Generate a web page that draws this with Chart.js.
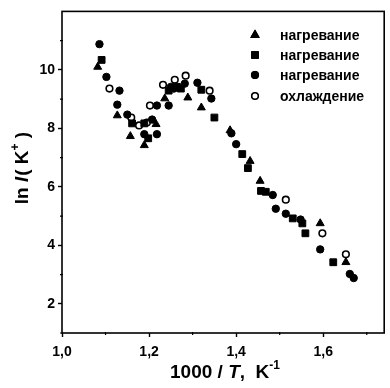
<!DOCTYPE html>
<html>
<head>
<meta charset="utf-8">
<script src="https://cdn.jsdelivr.net/npm/chart.js@4/dist/chart.umd.min.js"></script>
<style>
  html, body { margin: 0; padding: 0; background: #fff; }
  #wrap { width: 390px; height: 388px; }
</style>
</head>
<body>
<div id="wrap"><canvas id="chart" width="390" height="388"></canvas></div>
<script>
// heating run 1 (triangles)
const heat1X = [1.082, 1.127, 1.157, 1.189, 1.216, 1.236, 1.289, 1.320, 1.386, 1.432, 1.455, 1.593, 1.652];
const heat1Y = [10.10, 8.44, 7.73, 7.42, 8.14, 9.02, 9.05, 8.71, 7.93, 6.88, 6.20, 4.75, 3.42];

// heating run 2 (squares)
const heat2X = [1.091, 1.161, 1.189, 1.198, 1.245, 1.264, 1.273, 1.320, 1.350, 1.414, 1.427, 1.457, 1.468, 1.530, 1.552, 1.559, 1.623];
const heat2Y = [10.34, 8.17, 8.17, 7.66, 9.29, 9.42, 9.36, 9.32, 8.37, 7.12, 6.64, 5.86, 5.83, 4.92, 4.75, 4.41, 3.42];

// heating run 3 (filled circles)
const heat3X = [1.086, 1.102, 1.132, 1.127, 1.150, 1.207, 1.189, 1.218, 1.218, 1.245, 1.250, 1.257, 1.282, 1.311, 1.343, 1.389, 1.400, 1.484, 1.491, 1.514, 1.548, 1.593, 1.661, 1.670];
const heat3Y = [10.88, 9.76, 9.29, 8.81, 8.47, 8.30, 7.80, 7.80, 8.78, 8.78, 9.42, 9.36, 9.53, 9.56, 9.02, 7.83, 7.46, 5.72, 5.25, 5.08, 4.88, 3.86, 3.02, 2.88];

// cooling run (open circles)
const coolX = [1.109, 1.159, 1.177, 1.195, 1.202, 1.232, 1.259, 1.284, 1.339, 1.514, 1.598, 1.652];
const coolY = [9.36, 8.37, 8.10, 8.20, 8.78, 9.49, 9.66, 9.80, 9.29, 5.56, 4.41, 3.69];

const seriesLabels = ['нагревание', 'нагревание', 'нагревание', 'охлаждение'];

const xTicks = [1.0, 1.2, 1.4, 1.6];
const xMinor = [1.1, 1.3, 1.5, 1.7];
const yTicks = [2, 4, 6, 8, 10];
const yMinor = [1, 3, 5, 7, 9, 11];

const toPoints = (xs, ys) => xs.map((x, i) => ({ x: x, y: ys[i] }));

const FONT = '"Liberation Sans", Arial, sans-serif';

// draws a run of text pieces centred on (0,0) of the current transform
function drawRich(ctx, parts) {
  let total = 0;
  parts.forEach(p => {
    ctx.font = p.font;
    p.w = ctx.measureText(p.text).width;
    total += p.w + (p.gap || 0);
  });
  let x = -total / 2;
  parts.forEach(p => {
    ctx.font = p.font;
    ctx.fillText(p.text, x, p.dy || 0);
    x += p.w + (p.gap || 0);
  });
}

const framePlugin = {
  id: 'frame',
  afterDraw(chart) {
    const { ctx, chartArea: a, scales } = chart;
    ctx.save();
    ctx.strokeStyle = '#000';
    ctx.lineWidth = 1.6;
    ctx.strokeRect(a.left, a.top, a.right - a.left, a.bottom - a.top);

    // minor ticks
    ctx.lineWidth = 1.2;
    ctx.beginPath();
    yMinor.forEach(v => {
      const y = scales.y.getPixelForValue(v);
      ctx.moveTo(a.left - 2, y);
      ctx.lineTo(a.left + 1, y);
    });
    xMinor.forEach(v => {
      const x = scales.x.getPixelForValue(v);
      if (x < a.right - 2) {
        ctx.moveTo(x, a.bottom - 1);
        ctx.lineTo(x, a.bottom + 2);
      }
    });
    ctx.stroke();

    // axis titles
    ctx.fillStyle = '#000';
    ctx.textBaseline = 'middle';
    ctx.textAlign = 'left';
    const b = 'bold 19px ' + FONT;
    const bi = 'italic bold 19px ' + FONT;
    const sup = 'bold 12px ' + FONT;

    ctx.save();
    ctx.translate(225, 373);
    drawRich(ctx, [
      { text: '1000 / ', font: b },
      { text: 'T', font: bi },
      { text: ',  K', font: b },
      { text: '-1', font: sup, dy: -7 }
    ]);
    ctx.restore();

    ctx.save();
    ctx.translate(23, 168);
    ctx.rotate(-Math.PI / 2);
    drawRich(ctx, [
      { text: 'ln ', font: b },
      { text: 'I', font: bi, gap: 1 },
      { text: '( K', font: b },
      { text: '+', font: sup, dy: -7 },
      { text: ' )', font: b }
    ]);
    ctx.restore();

    // legend inside the plot
    const lx = 255, tx = 280;
    const rows = [35, 55, 75, 96];
    chart.data.datasets.forEach((ds, i) => {
      Chart.helpers.drawPoint(ctx, {
        pointStyle: ds.pointStyle,
        radius: ds.pointRadius,
        borderWidth: ds.pointBorderWidth
      }, lx, rows[i]);
      ctx.fillStyle = ds.pointBackgroundColor;
      ctx.strokeStyle = '#000';
      ctx.lineWidth = ds.pointBorderWidth;
      ctx.fill();
      ctx.stroke();
      ctx.fillStyle = '#000';
      ctx.font = 'bold 14px ' + FONT;
      ctx.fillText(seriesLabels[i], tx, rows[i] + 1);
    });
    ctx.restore();
  }
};

const common = { showLine: false, pointBorderColor: '#000' };

new Chart(document.getElementById('chart'), {
  type: 'scatter',
  data: {
    datasets: [
      { ...common, label: seriesLabels[0], data: toPoints(heat1X, heat1Y), pointStyle: 'triangle', pointRadius: 4.6, pointBackgroundColor: '#000', pointBorderWidth: 1 },
      { ...common, label: seriesLabels[1], data: toPoints(heat2X, heat2Y), pointStyle: 'rect', pointRadius: 4.8, pointBackgroundColor: '#000', pointBorderWidth: 1 },
      { ...common, label: seriesLabels[2], data: toPoints(heat3X, heat3Y), pointStyle: 'circle', pointRadius: 3.7, pointBackgroundColor: '#000', pointBorderWidth: 1 },
      { ...common, label: seriesLabels[3], data: toPoints(coolX, coolY), pointStyle: 'circle', pointRadius: 3.3, pointBackgroundColor: '#fff', pointBorderWidth: 1.6 }
    ]
  },
  options: {
    responsive: false,
    animation: false,
    layout: { padding: { top: 9, right: 3, left: 0, bottom: 0 } },
    plugins: { legend: { display: false }, tooltip: { enabled: false } },
    scales: {
      x: {
        type: 'linear',
        min: 1.0,
        max: 1.74,
        afterBuildTicks: axis => { axis.ticks = xTicks.map(v => ({ value: v })); },
        afterFit: scale => { scale.height = 55; },
        border: { display: false },
        grid: { drawOnChartArea: false, drawTicks: true, tickLength: 4, tickColor: '#000', tickWidth: 1.4 },
        ticks: {
          color: '#000',
          padding: 7,
          maxRotation: 0,
          font: { family: FONT, size: 14, weight: 'bold' },
          callback: v => v.toFixed(1).replace('.', ',')
        }
      },
      y: {
        type: 'linear',
        min: 1,
        max: 12,
        afterBuildTicks: axis => { axis.ticks = yTicks.map(v => ({ value: v })); },
        afterFit: scale => { scale.width = 62; },
        border: { display: false },
        grid: { drawOnChartArea: false, drawTicks: true, tickLength: 4, tickColor: '#000', tickWidth: 1.4 },
        ticks: {
          color: '#000',
          padding: 3,
          font: { family: FONT, size: 14, weight: 'bold' }
        }
      }
    }
  },
  plugins: [framePlugin]
});
</script>
</body>
</html>
